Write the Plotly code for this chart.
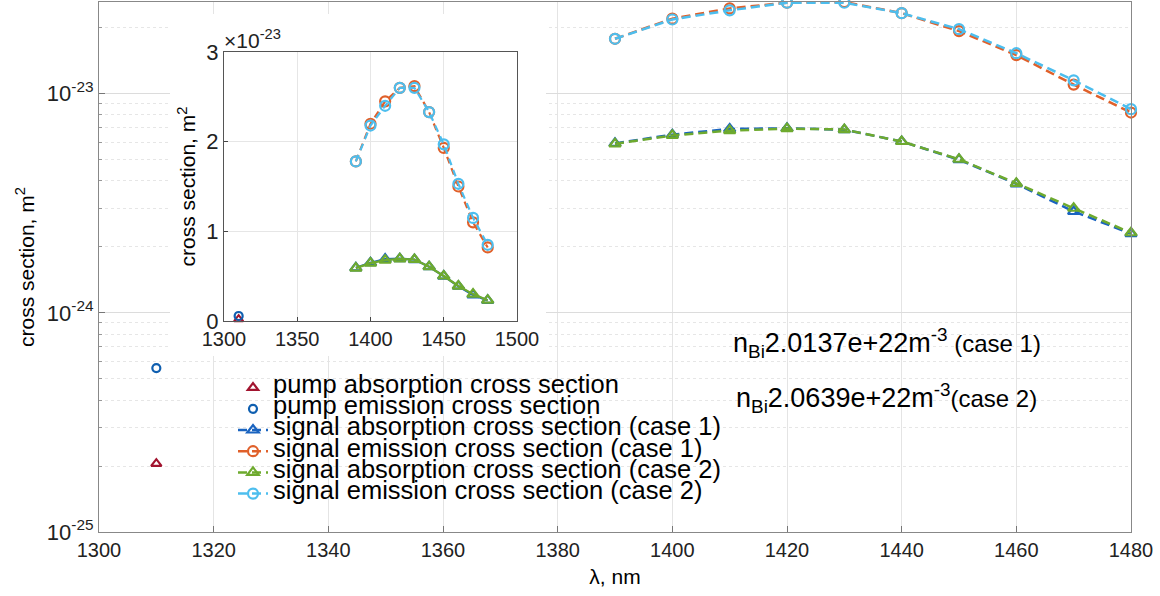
import math
import plotly.graph_objects as go

# ---------------- data ----------------
wl_pump = [1310]
pump_abs = [2.05e-25]
pump_em = [5.6e-25]

wl_signal = [1390, 1400, 1410, 1420, 1430, 1440, 1450, 1460, 1470, 1480]
sig_abs_case1 = [5.93e-24, 6.50e-24, 6.90e-24, 6.95e-24, 6.85e-24, 6.05e-24, 5.00e-24, 3.88e-24, 2.90e-24, 2.30e-24]
sig_em_case1 = [1.78e-23, 2.20e-23, 2.45e-23, 2.60e-23, 2.62e-23, 2.33e-23, 1.93e-23, 1.50e-23, 1.10e-23, 0.82e-23]
sig_abs_case2 = [5.90e-24, 6.45e-24, 6.78e-24, 6.93e-24, 6.86e-24, 6.05e-24, 5.02e-24, 3.90e-24, 3.00e-24, 2.32e-24]
sig_em_case2 = [1.78e-23, 2.18e-23, 2.40e-23, 2.60e-23, 2.60e-23, 2.33e-23, 1.97e-23, 1.53e-23, 1.15e-23, 0.85e-23]

names = [
    "pump absorption cross section",
    "pump emission cross section",
    "signal absorption cross section (case 1)",
    "signal emission cross section (case 1)",
    "signal absorption cross section (case 2)",
    "signal emission cross section (case 2)",
]

main_xticks = [1300, 1320, 1340, 1360, 1380, 1400, 1420, 1440, 1460, 1480]
main_yticks = [1e-25, 1e-24, 1e-23]
main_ytext = ["10<sup>-25</sup>", "10<sup>-24</sup>", "10<sup>-23</sup>"]
inset_xticks = [1300, 1350, 1400, 1450, 1500]
inset_yticks = [0, 1e-23, 2e-23, 3e-23]
inset_ytext = ["0", "1", "2", "3"]

C_PA = "#A2142F"
C_PE = "#0F5FB0"
C_A1 = "#1A64C0"
C_E1 = "#E0602A"
C_A2 = "#6EAA2E"
C_E2 = "#4DBEEE"

FONT = "Liberation Sans, Arial, Helvetica, sans-serif"
DASH = "9px,5px"
LEG = "<span style='font-size:25.5px'>%s</span>"

fig = go.Figure()

# ---------- main (log) plot ----------
fig.add_trace(go.Scatter(x=wl_pump, y=pump_abs, mode="markers", name=LEG % names[0],
                         marker=dict(symbol="triangle-up-open", size=9, color=C_PA, line=dict(width=2.2, color=C_PA))))
fig.add_trace(go.Scatter(x=wl_pump, y=pump_em, mode="markers", name=LEG % names[1],
                         marker=dict(symbol="circle-open", size=8, color=C_PE, line=dict(width=2.2, color=C_PE))))
for xs, ys, col, sym, nm in [
    (wl_signal, sig_abs_case1, C_A1, "triangle-up-open", names[2]),
    (wl_signal, sig_em_case1, C_E1, "circle-open", names[3]),
    (wl_signal, sig_abs_case2, C_A2, "triangle-up-open", names[4]),
    (wl_signal, sig_em_case2, C_E2, "circle-open", names[5]),
]:
    fig.add_trace(go.Scatter(x=xs, y=ys, mode="lines+markers", name=LEG % nm,
                             line=dict(color=col, width=2.5, dash=DASH),
                             marker=dict(symbol=sym, size=10, color=col, line=dict(width=2.2, color=col)),
                             cliponaxis=False))

# ---------- white cover behind the inset ----------
fig.add_trace(go.Scatter(x=[0, 1, 1, 0, 0], y=[0, 0, 1, 1, 0], fill="toself", fillcolor="white",
                         mode="none", xaxis="x2", yaxis="y2", hoverinfo="skip", showlegend=False))

# ---------- inset (linear) ----------
fig.add_trace(go.Scatter(x=wl_pump, y=pump_abs, mode="markers", xaxis="x3", yaxis="y3", showlegend=False,
                         marker=dict(symbol="triangle-up-open", size=8, color=C_PA, line=dict(width=2, color=C_PA)),
                         cliponaxis=False))
fig.add_trace(go.Scatter(x=wl_pump, y=pump_em, mode="markers", xaxis="x3", yaxis="y3", showlegend=False,
                         marker=dict(symbol="circle-open", size=8, color=C_PE, line=dict(width=2.2, color=C_PE)),
                         cliponaxis=False))
for ys, col, sym, dash in [
    (sig_abs_case1, C_A1, "triangle-up-open", "solid"),
    (sig_em_case1, C_E1, "circle-open", "7px,5px"),
    (sig_abs_case2, C_A2, "triangle-up-open", "solid"),
    (sig_em_case2, C_E2, "circle-open", "7px,5px"),
]:
    fig.add_trace(go.Scatter(x=wl_signal, y=ys, mode="lines+markers", xaxis="x3", yaxis="y3", showlegend=False,
                             line=dict(color=col, width=2.2, dash=dash),
                             marker=dict(symbol=sym, size=10, color=col, line=dict(width=2.2, color=col)),
                             cliponaxis=False))

ymax = max(max(sig_em_case1), max(sig_em_case2))

# pixel helpers for domains (plot area: x 99..1131, y 2..532)
L, R, T, B = 99, 1131, 2, 532
def dx(p):
    return (p - L) / (R - L)
def dy(p):
    return (B - p) / (B - T)

minor_vals = [k * 10 ** e for e in (-25, -24, -23) for k in range(2, 10) if k * 10 ** e <= ymax * 1.0001]

fig.update_layout(
    width=1160, height=596,
    margin=dict(l=L, r=1160 - R, t=T, b=596 - B, autoexpand=False),
    paper_bgcolor="white", plot_bgcolor="white",
    font=dict(family=FONT, color="black", size=19),
    showlegend=True,
    legend=dict(x=dx(233), y=dy(372), xanchor="left", yanchor="top",
                bgcolor="rgba(0,0,0,0)", borderwidth=0, font=dict(size=14, family=FONT),
                itemwidth=30, tracegroupgap=0),
    xaxis=dict(range=[1300, 1480], tickmode="array", tickvals=main_xticks, automargin=False,
               ticks="inside", ticklen=6, tickcolor="#777", showline=True, mirror=True,
               linecolor="#888", linewidth=1.2, showgrid=True, gridcolor="#e4e4e4", gridwidth=1,
               zeroline=False, tickfont=dict(size=20, color="#222"),
               title=dict(text="λ, nm", font=dict(size=21), standoff=9)),
    yaxis=dict(type="log", range=[-25, math.log10(ymax)], tickmode="array", tickvals=main_yticks,
               automargin=False,
               ticktext=main_ytext, ticks="inside", ticklen=6, tickcolor="#777", showline=True, mirror=True,
               linecolor="#888", linewidth=1.2, showgrid=True, gridcolor="#dcdcdc",
               zeroline=False, tickfont=dict(size=22, color="#222"),
               minor=dict(tickmode="array", tickvals=minor_vals, ticks="inside", ticklen=3, tickcolor="#999",
                          showgrid=True, gridcolor="#e6e6e6", griddash="dot", gridwidth=1),
               title=dict(text="cross section, m<sup>2</sup>", font=dict(size=21), standoff=6)),
    xaxis2=dict(domain=[dx(170), dx(546)], range=[0, 1], visible=False, fixedrange=True, anchor="y2"),
    yaxis2=dict(domain=[dy(356), dy(14)], range=[0, 1], visible=False, fixedrange=True, anchor="x2"),
    xaxis3=dict(domain=[dx(224), dx(517)], anchor="y3", range=[1300, 1500], tickmode="array",
                automargin=False,
                tickvals=inset_xticks, ticks="inside", ticklen=4, tickcolor="#444", showline=True, mirror=True,
                linecolor="#555", linewidth=1.3, showgrid=True, gridcolor="#e6e6e6", zeroline=False,
                tickfont=dict(size=20, color="#222")),
    yaxis3=dict(domain=[dy(321), dy(52)], anchor="x3", range=[0, 3e-23], tickmode="array",
                automargin=False,
                tickvals=inset_yticks, ticktext=inset_ytext, ticks="inside", ticklen=4, tickcolor="#444",
                showline=True, mirror=True, linecolor="#555", linewidth=1.3, showgrid=True,
                gridcolor="#e6e6e6", zeroline=False, tickfont=dict(size=22, color="#222"),
                title=dict(text="cross section, m<sup>2</sup>", font=dict(size=21), standoff=4)),
    annotations=[
        dict(text="×10<sup>-23</sup>", xref="paper", yref="paper", x=dx(222), y=dy(39),
             xanchor="left", yanchor="middle", showarrow=False, font=dict(size=21, color="#222")),
        dict(text="n<sub>Bi</sub>2.0137e+22m<sup>-3</sup><span style='font-size:24px'> (case 1)</span>",
             xref="paper", yref="paper", x=dx(731), y=dy(343), xanchor="left", yanchor="middle",
             showarrow=False, font=dict(size=27, color="black")),
        dict(text="n<sub>Bi</sub>2.0639e+22m<sup>-3</sup><span style='font-size:24px'>(case 2)</span>",
             xref="paper", yref="paper", x=dx(734), y=dy(398), xanchor="left", yanchor="middle",
             showarrow=False, font=dict(size=27, color="black")),
    ],
)

fig.write_html("out.html")
